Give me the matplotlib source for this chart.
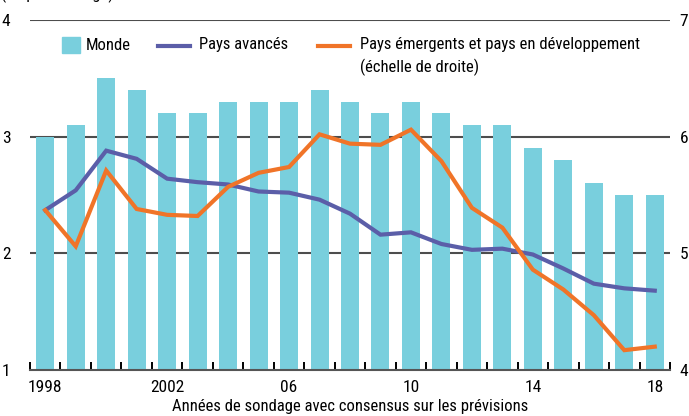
import matplotlib
matplotlib.use("Agg")
import matplotlib.pyplot as plt
from matplotlib.lines import Line2D
from matplotlib.patches import Rectangle
from matplotlib import font_manager

names = {f.name for f in font_manager.fontManager.ttflist}
pref = ['Roboto Condensed', 'Open Sans Condensed', 'Liberation Sans Narrow',
        'DejaVu Sans Condensed', 'Noto Sans Condensed', 'Arial Narrow']
chosen = [p for p in pref if p in names]
fam = chosen[0] if chosen else 'Liberation Sans'
plt.rcParams['font.family'] = [fam, 'DejaVu Sans']

years = list(range(1998, 2019))
monde = [3.0, 3.1, 3.5, 3.4, 3.2, 3.2, 3.3, 3.3, 3.3, 3.4, 3.3, 3.2, 3.3, 3.2,
         3.1, 3.1, 2.9, 2.8, 2.6, 2.5, 2.5]
avances = [2.37, 2.54, 2.88, 2.81, 2.64, 2.61, 2.59, 2.53, 2.52, 2.46, 2.34,
           2.16, 2.18, 2.08, 2.03, 2.04, 1.99, 1.87, 1.74, 1.70, 1.68]
emergents = [5.37, 5.06, 5.71, 5.38, 5.33, 5.32, 5.57, 5.69, 5.74, 6.02, 5.94,
             5.93, 6.06, 5.79, 5.39, 5.22, 4.86, 4.69, 4.47, 4.17, 4.20]
xtick_years = [1998, 2002, 2006, 2010, 2014, 2018]
xtick_labels = ['1998', '2002', '06', '10', '14', '18']
left_ticks = [1, 2, 3, 4]
right_ticks = [4, 5, 6, 7]

c_bar = '#79CFDD'
c_adv = '#5B5EA8'
c_em = '#F07428'
c_grid = '#4D4D4D'
fs = 12.5
fs_leg = 12

fig = plt.figure(figsize=(6.89, 4.16), dpi=100)
ax = fig.add_axes([30/689, 1-370/416, 640/689, 350/416])
ax2 = ax.twinx()

for y in [2, 3, 4]:
    ax.axhline(y, color=c_grid, lw=1.5, zorder=0)
ax.bar(years, [m - 1 for m in monde], bottom=1, width=0.59, color=c_bar, zorder=1)
ax.plot(years, avances, color=c_adv, lw=3, zorder=3, solid_joinstyle='miter')
ax2.plot(years, emergents, color=c_em, lw=3, zorder=3, solid_joinstyle='miter')

ax.set_xlim(1997.5, 2018.5)
ax.set_ylim(1, 4)
ax2.set_ylim(4, 7)

ax.set_yticks(left_ticks)
ax.set_yticklabels([str(t) for t in left_ticks])
ax2.set_yticks(right_ticks)
ax2.set_yticklabels([str(t) for t in right_ticks])
for a in (ax, ax2):
    for s in ['left', 'right', 'top']:
        a.spines[s].set_visible(False)
ax2.spines['bottom'].set_visible(False)
ax.spines['bottom'].set_color('#555555')
ax.spines['bottom'].set_linewidth(1.5)
ax.tick_params(axis='y', length=0, pad=14, labelsize=fs)
ax2.tick_params(axis='y', length=0, pad=7, labelsize=fs)

ax.set_xticks(xtick_years)
ax.set_xticklabels(xtick_labels)
ax.set_xticks([y + 0.5 for y in range(1997, 2019)], minor=True)
ax.tick_params(axis='x', which='major', length=0, pad=7, labelsize=fs)
ax.tick_params(axis='x', which='minor', direction='in', length=6, width=1.4, color='black')
ax.set_xlabel('Années de sondage avec consensus sur les prévisions', fontsize=fs_leg, labelpad=3)

# legend (manual)
fig.patches.append(Rectangle((62/689, 1-53/416), 18/689, 16/416, transform=fig.transFigure,
                             color=c_bar, figure=fig))
fig.text(86/689, 1-45/416, 'Monde', fontsize=fs_leg, va='center')
fig.lines.append(Line2D([158/689, 190/689], [1-46/416, 1-46/416], transform=fig.transFigure,
                        color=c_adv, lw=3, figure=fig))
fig.text(199/689, 1-45/416, 'Pays avancés', fontsize=fs_leg, va='center')
fig.lines.append(Line2D([318/689, 350/689], [1-46/416, 1-46/416], transform=fig.transFigure,
                        color=c_em, lw=3, figure=fig))
fig.text(360/689, 1-45/416, 'Pays émergents et pays en développement', fontsize=fs_leg, va='center')
fig.text(360/689, 1-67/416, '(échelle de droite)', fontsize=fs_leg, va='center')

fig.text(1/689, 1 + 1/416, '(En pourcentage)', fontsize=fs_leg, va='baseline')

fig.savefig('out.png', dpi=100)
